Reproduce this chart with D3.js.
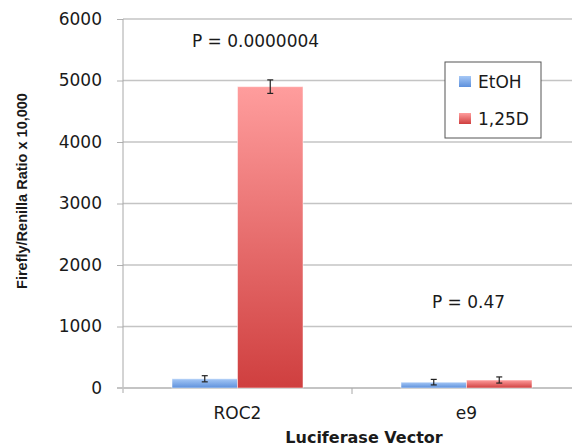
<!DOCTYPE html>
<html>
<head>
<meta charset="utf-8">
<script src="https://cdn.jsdelivr.net/npm/d3@7"></script>
<style>
  body { margin: 0; background: #fff; }
  text { font-family: "DejaVu Sans", sans-serif; fill: #1a1a1a; }
</style>
</head>
<body>
<svg id="chart" width="572" height="447"></svg>
<script>
const categories = ['ROC2', 'e9'];
const series = ['EtOH', '1,25D'];
const values = {
  'EtOH': [150, 95],
  '1,25D': [4900, 130]
};
const errors = {
  'EtOH': [50, 45],
  '1,25D': [110, 50]
};
const pLabels = ['P = 0.0000004', 'P = 0.47'];
const pPos = [5550, 1300];
const yTicks = [0, 1000, 2000, 3000, 4000, 5000, 6000];

const svg = d3.select('#chart');
const m = {left: 123, top: 19, right: 572, bottom: 388};

const x = d3.scaleBand().domain(categories).range([m.left, m.left + 458]).paddingInner(0).paddingOuter(0);
const x1 = d3.scaleBand().domain(series).range([0, 131]);
const y = d3.scaleLinear().domain([0, 6000]).range([m.bottom, m.top]);

const defs = svg.append('defs');
const grads = {
  'EtOH': ['#a6c8f6', '#5d90dc'],
  '1,25D': ['#ff9d9d', '#cf3f3f']
};
series.forEach((s, i) => {
  const g = defs.append('linearGradient').attr('id', 'g' + i)
    .attr('x1', 0).attr('y1', 0).attr('x2', 0).attr('y2', 1);
  g.append('stop').attr('offset', '0%').attr('stop-color', grads[s][0]);
  g.append('stop').attr('offset', '100%').attr('stop-color', grads[s][1]);
});

// gridlines
svg.append('g').selectAll('line').data(yTicks.slice(1)).enter().append('line')
  .attr('x1', m.left).attr('x2', 572)
  .attr('y1', d => y(d)).attr('y2', d => y(d))
  .attr('stroke', '#c4c4c4').attr('stroke-width', 1.5);

// y axis
const yAxis = svg.append('g').attr('transform', 'translate(' + m.left + ',0)')
  .call(d3.axisLeft(y).tickValues(yTicks).tickFormat(d3.format('d')).tickSize(6).tickPadding(15));
yAxis.select('.domain').remove();
yAxis.selectAll('.tick line').attr('stroke', '#b0b0b0');
yAxis.selectAll('.tick text').style('font-size', '17px').attr('fill', '#1a1a1a')
  .style('font-family', '"DejaVu Sans", sans-serif');
svg.append('line').attr('x1', m.left).attr('x2', m.left).attr('y1', m.top).attr('y2', m.bottom + 5)
  .attr('stroke', '#a8a8a8').attr('stroke-width', 1);

// x axis
svg.append('line').attr('x1', m.left - 6).attr('x2', 572).attr('y1', m.bottom).attr('y2', m.bottom)
  .attr('stroke', '#c4c4c4').attr('stroke-width', 2);
svg.append('line').attr('x1', x('e9')).attr('x2', x('e9')).attr('y1', m.bottom).attr('y2', m.bottom + 6)
  .attr('stroke', '#a8a8a8');
svg.append('g').selectAll('text').data(categories).enter().append('text')
  .attr('x', d => x(d) + x.bandwidth() / 2).attr('y', 419)
  .attr('text-anchor', 'middle').style('font-size', '17px').text(d => d);

// bars
const gap = (x.bandwidth() - 131) / 2;
const groups = svg.append('g').selectAll('g').data(categories).enter().append('g')
  .attr('transform', d => 'translate(' + (x(d) + gap) + ',0)');
series.forEach((s, si) => {
  groups.append('rect')
    .attr('x', x1(s)).attr('width', x1.bandwidth())
    .attr('y', (d, i) => y(values[s][i]))
    .attr('height', (d, i) => m.bottom - y(values[s][i]))
    .attr('fill', 'url(#g' + si + ')')
    .attr('stroke', 'rgba(255,255,255,0.5)').attr('stroke-width', 1);
  // error bars
  const eb = groups.append('g').attr('stroke', '#222').attr('stroke-width', 1.2);
  const cx = x1(s) + x1.bandwidth() / 2;
  eb.append('line').attr('x1', cx).attr('x2', cx)
    .attr('y1', (d, i) => y(values[s][i] + errors[s][i]))
    .attr('y2', (d, i) => y(values[s][i] - errors[s][i]));
  [1, -1].forEach(k => {
    eb.append('line').attr('x1', cx - 3).attr('x2', cx + 3)
      .attr('y1', (d, i) => y(values[s][i] + k * errors[s][i]))
      .attr('y2', (d, i) => y(values[s][i] + k * errors[s][i]));
  });
});

// p-values
svg.append('g').selectAll('text').data(categories).enter().append('text')
  .attr('x', (d, i) => x(d) + x.bandwidth() / 2 + (i === 0 ? 18 : 2))
  .attr('y', (d, i) => y(pPos[i]))
  .attr('text-anchor', 'middle').style('font-size', '17px')
  .text((d, i) => pLabels[i]);

// legend
const lg = svg.append('g').attr('transform', 'translate(445,62)');
lg.append('rect').attr('width', 96).attr('height', 76).attr('fill', '#fff')
  .attr('stroke', '#555').attr('stroke-width', 1);
series.forEach((s, i) => {
  lg.append('rect').attr('x', 14).attr('y', 14 + i * 37).attr('width', 12).attr('height', 11)
    .attr('fill', 'url(#g' + i + ')');
  lg.append('text').attr('x', 33).attr('y', 26 + i * 37).style('font-size', '17px').text(s);
});

// axis titles
svg.append('text').attr('transform', 'translate(27,191) rotate(-90)')
  .attr('text-anchor', 'middle').style('font-family', '"Liberation Sans", Arial, sans-serif')
  .style('font-size', '14.5px').style('font-weight', 'bold')
  .text('Firefly/Renilla Ratio x 10,000');
svg.append('text').attr('x', 364).attr('y', 443)
  .attr('text-anchor', 'middle').style('font-size', '16px').style('font-weight', 'bold')
  .text('Luciferase Vector');
</script>
</body>
</html>
